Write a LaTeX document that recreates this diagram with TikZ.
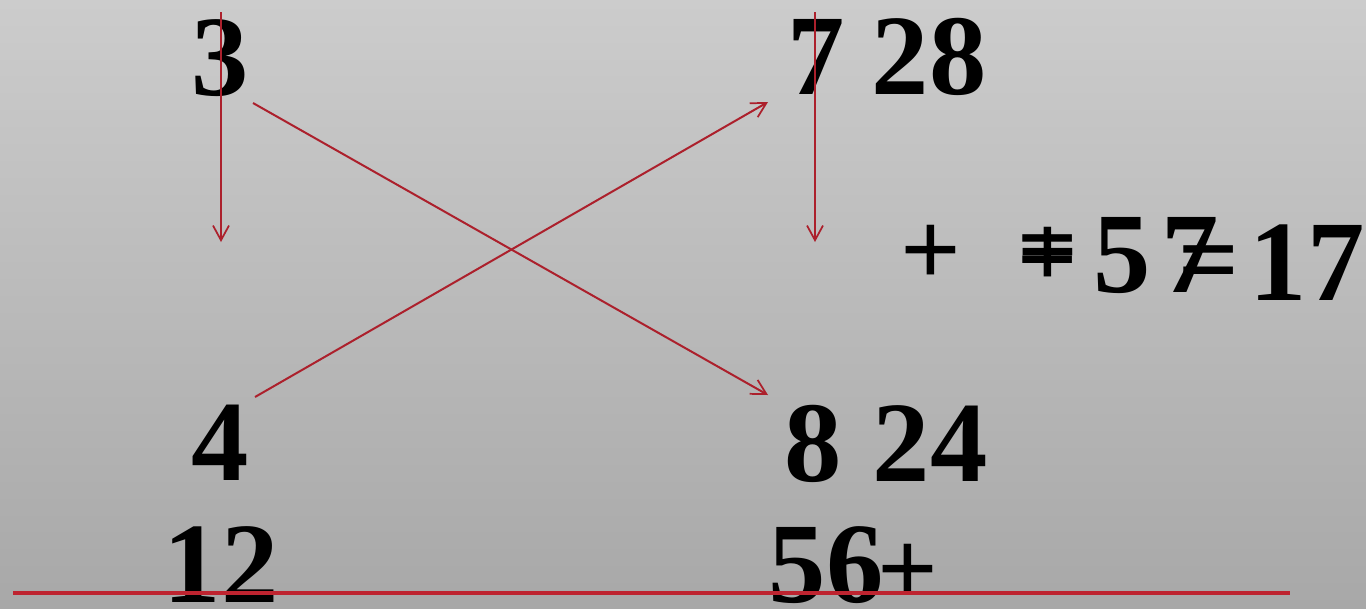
\documentclass[tikz,border=0pt]{standalone}
\usepackage{fontspec}
\setmainfont{Liberation Serif}
\usetikzlibrary{arrows.meta}
\definecolor{arrowred}{RGB}{172,32,44}
\definecolor{linered}{RGB}{190,36,48}
\definecolor{bgtop}{RGB}{204,204,204}
\definecolor{bgbot}{RGB}{168,168,168}
\tikzset{
  num/.style={inner sep=0pt, font=\fontsize{86}{90}\selectfont\bfseries, text=black},
  sym/.style={inner sep=0pt, font=\fontsize{80}{84}\selectfont\bfseries, text=black},
  redarrow/.style={draw=arrowred, line width=1.5pt, -{Straight Barb[length=11pt,width=12pt,line width=1.3pt]}},
  redline/.style={draw=linered, line width=3pt}
}
\begin{document}
\begin{tikzpicture}[x=0.75pt,y=-0.75pt]
\useasboundingbox (0,0) rectangle (1366,608);
\fill[top color=bgtop, bottom color=bgbot] (0,0) rectangle (1366,608);

% numbers
\node[num] (n3) at (220,58) {3};
\node[num] (n7) at (816,57) {7};
\node[num] (n28) at (929,57) {28};
\node[num] (n4) at (220,443) {4};
\node[num] (n8) at (813,444) {8};
\node[num] (n24) at (930,444) {24};
\node[num] (n12) at (221,565) {12};
\node[num] (n56) at (826,565) {56};
\node[sym] (p2) at (908,574) {+};

% right side expression
\node[sym] (p1) at (931,255) {+};
\node[sym] (p3) at (1048,257) {+};
\node[sym] (e1) at (1048,260) {=};
\node[num] (n5) at (1122,256) {5};
\node[num] (n7b) at (1190,255) {7};
\node[sym] (e2) at (1209,271) {=};
\node[num] (n17) at (1307,263) {17};

% arrow end points
\coordinate (a1s) at (221,12);
\coordinate (a1e) at (221,242);
\coordinate (a2s) at (815,12);
\coordinate (a2e) at (815,242);
\coordinate (d1s) at (253,103);
\coordinate (d1e) at (768,395);
\coordinate (d2s) at (255,397);
\coordinate (d2e) at (768,102);
\coordinate (ls) at (13,593);
\coordinate (le) at (1290,593);

\draw[redarrow] (a1s) -- (a1e);
\draw[redarrow] (a2s) -- (a2e);
\draw[redarrow] (d1s) -- (d1e);
\draw[redarrow] (d2s) -- (d2e);
\draw[redline] (ls) -- (le);
\end{tikzpicture}
\end{document}
